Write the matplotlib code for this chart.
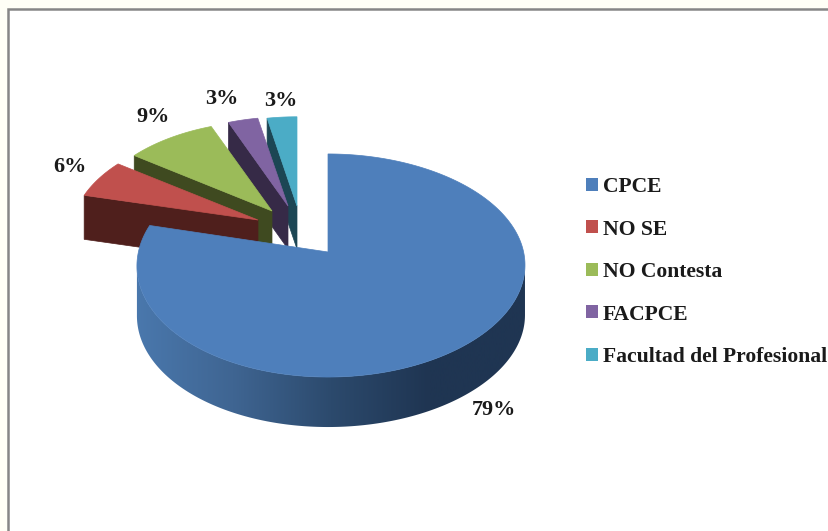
import numpy as np
import matplotlib
matplotlib.use("Agg")
import matplotlib.pyplot as plt
from matplotlib.patches import Patch, Polygon, Rectangle
from matplotlib.colors import LinearSegmentedColormap

categories = ["CPCE", "NO SE", "NO Contesta", "FACPCE", "Facultad del Profesional"]
values = [79, 6, 9, 3, 3]
top_colors = ["#4e7fbb", "#c0504d", "#9bbb59", "#8064a2", "#4bacc6"]
side_colors = ["#1f3552", "#4f1f1c", "#3f4a20", "#362a47", "#1c4654"]

# layout (pixels): pull-out of each slice from the pie centre, label anchors
CX, CY = 328, 252
pull_x = [0, -70, -56, -40, -31]
pull_y = [0, -32, -41, -46, -46]
scale_x = [1.0, 0.975, 0.96, 0.94, 0.93]
scale_y = [1.0, 0.93, 0.92, 0.91, 0.91]
depth = [50, 44, 44, 43, 43]
label_xy = [(494, 408), (70, 165), (153, 115), (222, 97), (281, 99)]

A, B, K = 192.6, 109.9, 0.121


def rim(theta_deg, ox=CX, oy=CY, sx=1.0, sy=1.0):
    t = np.radians(theta_deg)
    w = 1 + K * np.cos(t)
    x = A * np.sin(t) / w + 3 * np.sin(t) ** 2
    y = -B * np.cos(t) / w
    return np.column_stack([ox + sx * x, oy + sy * y])


plt.rcParams["font.family"] = ["Liberation Serif", "DejaVu Serif"]
fig = plt.figure(figsize=(8.29, 5.31), dpi=100, facecolor="#fffff6")
ax = fig.add_axes([0, 0, 1, 1])
ax.set_xlim(0, 829)
ax.set_ylim(531, 0)
ax.axis("off")

ax.add_patch(Rectangle((8, 9), 900, 600, facecolor="white", edgecolor="#868686", linewidth=1.8, zorder=0))

edges = np.cumsum([0] + values) / sum(values) * 360.0

# small slices, back to front
for i in [4, 3, 2, 1]:
    a0, a1 = edges[i], edges[i + 1]
    ox, oy = CX + pull_x[i], CY + pull_y[i]
    arc = rim(np.linspace(a0, a1, 40), ox, oy, scale_x[i], scale_y[i])
    apex = np.array([[ox, oy]])
    cut = np.vstack([arc[:1], apex, apex + [0, depth[i]], arc[:1] + [0, depth[i]]])
    ax.add_patch(Polygon(cut, closed=True, facecolor=side_colors[i], edgecolor=side_colors[i], linewidth=0.5, zorder=i * -1 + 6))
    ax.add_patch(Polygon(np.vstack([apex, arc]), closed=True, facecolor=top_colors[i], edgecolor=top_colors[i], linewidth=0.5, zorder=i * -1 + 6))

# big slice: side wall with a left-to-right gradient, then top face
front = rim(np.linspace(97, 263, 200))
wall = np.vstack([front, (front + [0, depth[0]])[::-1]])
clip = Polygon(wall, closed=True, transform=ax.transData, facecolor="none", edgecolor="none")
ax.add_patch(clip)
cmap = LinearSegmentedColormap.from_list("wall", ["#4a78ad", "#3f6592", "#2c4a6d", "#1f3552", "#1f3552"])
grad = np.linspace(0, 1, 256).reshape(1, -1)
im = ax.imshow(grad, cmap=cmap, extent=(135, 527, 531, 0), aspect="auto", zorder=7)
im.set_clip_path(clip)
ax.set_xlim(0, 829)
ax.set_ylim(531, 0)

arc = rim(np.linspace(edges[0], edges[1], 400))
ax.add_patch(Polygon(np.vstack([[[CX, CY]], arc]), closed=True, facecolor=top_colors[0], edgecolor=top_colors[0], linewidth=0.5, zorder=8))

for v, (lx, ly) in zip(values, label_xy):
    ax.text(lx, ly + 2, f"{v}%", ha="center", va="center", fontsize=16, fontweight="bold", color="#1a1a1a", zorder=9)

handles = [Patch(facecolor=c, edgecolor="none") for c in top_colors]
leg = ax.legend(handles, categories, loc="upper left", bbox_to_anchor=(586 / 829, 1 - 177 / 531),
                bbox_transform=fig.transFigure, frameon=False, prop={"size": 15.6, "weight": "bold"},
                handlelength=0.55, handleheight=0.55, handletextpad=0.23, labelspacing=1.04,
                borderpad=0, borderaxespad=0, labelcolor="#1a1a1a")
leg.set_zorder(10)

fig.savefig("out.png", dpi=100, facecolor=fig.get_facecolor())
